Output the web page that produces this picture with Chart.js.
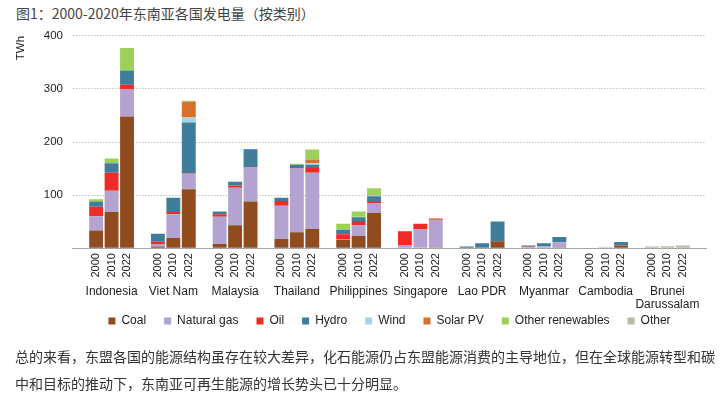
<!DOCTYPE html>
<html>
<head>
<meta charset="utf-8">
<script src="https://cdn.jsdelivr.net/npm/chart.js@4"></script>
<style>
    body { margin: 0; width: 720px; height: 404px; background: #fff; position: relative; overflow: hidden; }
    .title { position: absolute; left: 16px; top: 3px; font: 14px "Noto Sans CJK SC", sans-serif; color: #444; }
    .wrap { position: absolute; left: 0; top: 19px; width: 720px; height: 334px; }
    .note { position: absolute; left: 15px; top: 343px; width: 700px; font: 14px/27px "Noto Sans CJK SC", sans-serif; color: #333; }
</style>
</head>
<body>
<div class="title">图1：2000-2020年东南亚各国发电量（按类别）</div>
<div class="wrap"><canvas id="js--chart"></canvas></div>
<div class="note">总的来看，东盟各国的能源结构虽存在较大差异，化石能源仍占东盟能源消费的主导地位，但在全球能源转型和碳中和目标的推动下，东南亚可再生能源的增长势头已十分明显。</div>
<script>
const countries = ['Indonesia', 'Viet Nam', 'Malaysia', 'Thailand', 'Philippines',
    'Singapore', 'Lao PDR', 'Myanmar', 'Cambodia', ['Brunei', 'Darussalam']];
const years = ['2000', '2010', '2022'];
const yTicks = [100, 200, 300, 400];

// TWh, 3 values (2000, 2010, 2022) per country, same order as countries
const coal      = [33, 68, 248,  3, 19, 111,  8, 43, 88,  17, 30, 36,  16, 23, 66,  0, 0, 1,   0, 0, 13,  0, 0, 1,   0, 0, 5,   0, 0, 0];
const gas       = [27, 40, 51,   5, 45, 29,   51, 71, 64, 63, 120, 106, 1, 20, 18,  6, 35, 52,  0, 0, 0,   2, 3, 10,  0, 0, 0,   0, 0, 0];
const oil       = [18, 34, 9,    4, 4, 1,     5, 4, 1,    9, 1, 9,     9, 8, 3,    26, 11, 1,  0, 0, 0,   1, 0, 0,   0.5, 1, 0.5, 0, 0, 0];
const hydro     = [10, 18, 27,   15, 27, 96,  5, 7, 32,   6, 6, 6,     8, 7, 11,   0, 0, 0,    3, 9, 37,  2, 6, 10,  0, 0, 6,   0, 0, 0];
const wind      = [0, 0, 0,      0, 0, 9,     0, 0, 0,    0, 0, 3,     0, 1, 1,    0, 0, 0,    0, 0, 0,   0, 0, 0,   0, 0, 0,   0, 0, 0];
const solar     = [0, 0, 0,      0, 0, 30,    0, 0, 2,    0, 0, 7,     0, 0, 1,    0, 0, 2,    0, 0, 0,   0, 0, 0,   0, 0, 0,   0, 0, 0];
const otherRen  = [4, 9, 42,     0, 0, 2,     0, 0, 0,    0, 2, 19,    12, 10, 13, 0, 0, 0,    0, 0, 0,   0, 0, 0,   0, 0, 0,   0, 0, 0];
const other     = [0, 0, 0,      0, 0, 0,     0, 0, 0,    0, 0, 0,     0, 0, 0,    0, 0, 1,    0, 0, 0,   0, 0, 0,   0, 0, 0,   3, 3.5, 5];

// one empty slot before each country group and after the last one
const yearLabels = [''];
const countryLabels = [''];
countries.forEach(function (c) {
    years.forEach(function (y, j) {
        yearLabels.push(y);
        countryLabels.push(j == 1 ? c : '');
    });
    yearLabels.push('');
    countryLabels.push('');
});

function spread(values) {
    const out = [null];
    for (let i = 0; i < countries.length; i++) {
        out.push(values[i * 3], values[i * 3 + 1], values[i * 3 + 2], null);
    }
    return out;
}

const series = [
    ['Coal', coal, '#904b1e'],
    ['Natural gas', gas, '#b2a3d1'],
    ['Oil', oil, '#ee2b24'],
    ['Hydro', hydro, '#3f7d9b'],
    ['Wind', wind, '#a3d5e8'],
    ['Solar PV', solar, '#d8702c'],
    ['Other renewables', otherRen, '#9dcf5b'],
    ['Other', other, '#b8baa9']
];

const data = {
    labels: yearLabels,
    datasets: series.map(function (s) {
        return {
            label: s[0],
            data: spread(s[1]),
            backgroundColor: s[2],
            barPercentage: 0.9,
            categoryPercentage: 1.0
        };
    })
};

const fontFamily = '"Liberation Sans", Arial, sans-serif';

// the legend keeps its wide item spacing, but sits closer to the country names
// and is centred under the plot area instead of the whole canvas
const liftLegend = {
    id: 'liftLegend',
    afterLayout: function (chart) {
        const lg = chart.legend;
        const shift = (chart.chartArea.left + chart.chartArea.right) / 2 - (lg.left + lg.right) / 2;
        lg.top -= 16;
        lg.bottom -= 16;
        lg.left += shift;
        lg.right += shift;
    }
};

const config = {
    type: 'bar',
    data: data,
    plugins: [liftLegend],
    options: {
        responsive: true,
        maintainAspectRatio: false,
        animation: false,
        layout: { padding: { left: 14, right: 14, top: 3, bottom: 0 } },
        plugins: {
            tooltip: { enabled: false },
            legend: {
                position: 'bottom',
                labels: {
                    boxWidth: 7,
                    boxHeight: 7,
                    padding: 18,
                    color: '#222',
                    font: { family: fontFamily, size: 12 }
                }
            }
        },
        scales: {
            x: {
                stacked: true,
                weight: 0,
                grid: { display: false, drawTicks: false },
                border: { display: true, color: '#a6a6a6', width: 1 },
                ticks: {
                    autoSkip: false,
                    minRotation: 90,
                    maxRotation: 90,
                    padding: 5,
                    color: '#222',
                    font: { family: fontFamily, size: 11 }
                }
            },
            x2: {
                type: 'category',
                labels: countryLabels,
                position: 'bottom',
                offset: true,
                weight: 1,
                grid: { display: false, drawTicks: false },
                border: { display: false },
                ticks: {
                    autoSkip: false,
                    maxRotation: 0,
                    minRotation: 0,
                    padding: 2,
                    color: '#222',
                    font: { family: fontFamily, size: 12, lineHeight: 1.1 }
                }
            },
            y: {
                stacked: true,
                min: 0,
                max: 400,
                afterBuildTicks: function (axis) {
                    axis.ticks = [0].concat(yTicks).map(function (v) { return { value: v }; });
                },
                grid: {
                    drawTicks: false,
                    color: function (ctx) {
                        return ctx.tick && ctx.tick.value === 0 ? 'rgba(0,0,0,0)' : '#c4c4c4';
                    }
                },
                border: { display: false, dash: [1.5, 1.5] },
                ticks: {
                    padding: 10,
                    color: '#222',
                    font: { family: fontFamily, size: 11.5 },
                    callback: function (v) { return v === 0 ? '' : v; }
                },
                title: {
                    display: true,
                    text: 'TWh',
                    align: 'end',
                    color: '#222',
                    font: { family: fontFamily, size: 11.5 },
                    padding: { top: 0, bottom: 6 }
                }
            }
        }
    }
};

const myChart = new Chart(document.getElementById('js--chart'), config);
</script>
</body>
</html>
